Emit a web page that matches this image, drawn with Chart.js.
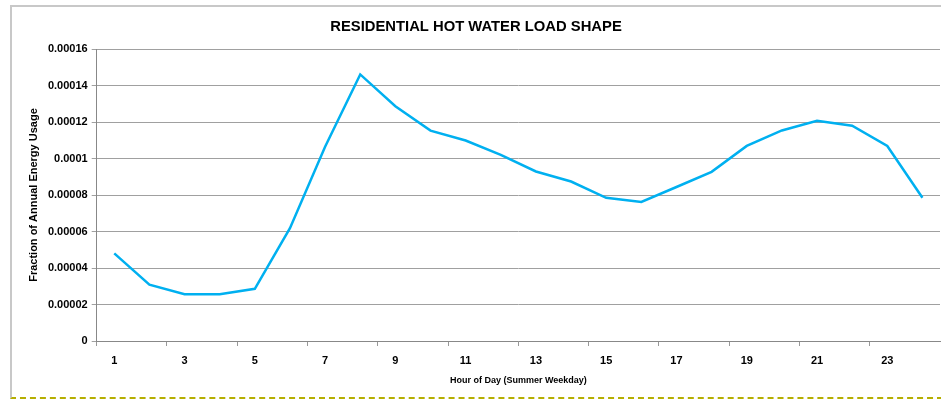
<!DOCTYPE html>
<html>
<head>
<meta charset="utf-8">
<script src="https://cdn.jsdelivr.net/npm/chart.js@4"></script>
<style>
  body { margin: 0; background: #fff; }
  #frame {
    position: absolute; left: 10px; top: 5px;
    width: 931px; height: 390px;
    border-left: 2px solid #c8c8c8;
    border-top: 2px solid #c8c8c8;
    border-bottom: 2px dashed #b5ae00;
  }
</style>
</head>
<body>
<div id="frame"><canvas id="load-chart" width="929" height="390"></canvas></div>
<script>
// hours of a summer weekday
const hours = ["1", "2", "3", "4", "5", "6", "7", "8", "9", "10", "11", "12",
               "13", "14", "15", "16", "17", "18", "19", "20", "21", "22", "23", "24"];

// fraction of annual energy usage per hour
const loadShape = [0.0000480, 0.0000309, 0.0000256, 0.0000256, 0.0000286, 0.0000618,
                   0.0001065, 0.0001461, 0.0001287, 0.0001153, 0.0001099, 0.0001020,
                   0.0000929, 0.0000874, 0.0000785, 0.0000762, 0.0000844, 0.0000927,
                   0.0001069, 0.0001154, 0.0001207, 0.0001180, 0.0001069, 0.0000785];

const yMax = 0.00016;
const yStep = 0.00002;

const font = 'Liberation Sans';

new Chart(document.getElementById("load-chart"), {
    type: 'line',
    data: {
        labels: hours,
        datasets: [
            {
                label: "Load shape",
                data: loadShape,
                borderColor: "#00b0f0",
                borderWidth: 2.5,
                pointRadius: 0,
                tension: 0,
                fill: false
            }
        ]
    },
    options: {
        responsive: false,
        animation: false,
        layout: { padding: { left: 0, right: 1, top: 0, bottom: 7 } },
        plugins: {
            legend: { display: false },
            tooltip: { enabled: false },
            title: {
                display: true,
                text: 'RESIDENTIAL HOT WATER LOAD SHAPE',
                color: '#000',
                font: { family: font, size: 14.8, weight: 'bold' },
                padding: { top: 11, bottom: 13.3 }
            }
        },
        scales: {
            x: {
                offset: true,
                grid: {
                    offset: true,
                    drawOnChartArea: false,
                    tickLength: 5,
                    tickColor: (ctx) => ctx.index % 2 === 0 ? '#999' : 'rgba(0,0,0,0)'
                },
                border: { color: '#888', width: 1 },
                ticks: {
                    autoSkip: false,
                    maxRotation: 0,
                    padding: 8,
                    color: '#000',
                    font: { family: font, size: 11, weight: 'bold' },
                    callback: (v, i) => i % 2 === 0 ? hours[i] : ''
                },
                title: {
                    display: true,
                    text: 'Hour of Day (Summer Weekday)',
                    color: '#000',
                    font: { family: font, size: 9, weight: 'bold' },
                    padding: { top: 0, bottom: 4 }
                }
            },
            y: {
                min: 0,
                max: yMax,
                grid: { color: '#a0a0a0', tickLength: 5 },
                border: { color: '#888', width: 1 },
                ticks: {
                    stepSize: yStep,
                    padding: 4,
                    color: '#000',
                    font: { family: font, size: 11, weight: 'bold' },
                    callback: (v) => String(Number(v.toFixed(5)))
                },
                title: {
                    display: true,
                    text: 'Fraction of Annual Energy Usage',
                    color: '#000',
                    font: { family: font, size: 11, weight: 'bold' },
                    padding: { top: 15, bottom: 0 }
                },
                afterFit: (scale) => { scale.width = 84.7; }
            }
        }
    }
});
</script>
</body>
</html>
